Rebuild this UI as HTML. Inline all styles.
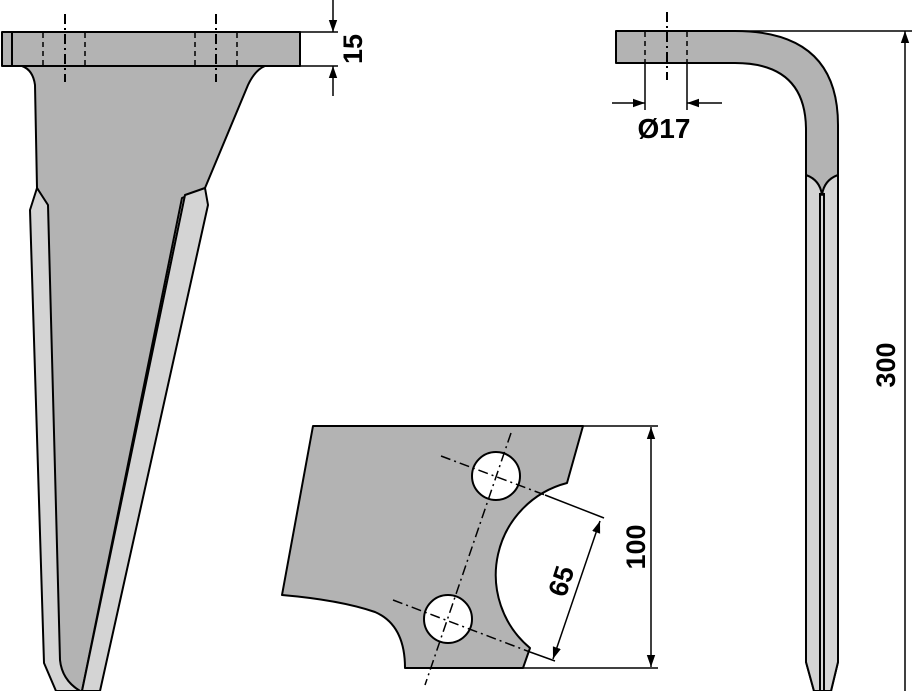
<!DOCTYPE html>
<html><head><meta charset="utf-8"><style>
html,body{margin:0;padding:0;background:#fff;}
svg{display:block;}
text{font-family:"Liberation Sans",sans-serif;font-weight:bold;fill:#000;}
</style></head><body>
<svg width="912" height="691" viewBox="0 0 912 691" xmlns="http://www.w3.org/2000/svg">
<defs>
<marker id="ar" viewBox="0 0 10 10" refX="10" refY="5" markerWidth="12" markerHeight="12" orient="auto-start-reverse" markerUnits="userSpaceOnUse"><path d="M0,1.5 L10,5 L0,8.5 z" fill="#000"/></marker>
</defs>
<g stroke="#000" stroke-width="2" stroke-linejoin="round">
<path d="M22,66 Q33,70 35,85 L37,188 L47,205 L57,660 Q62,680 80,691 L82,691 L182,198 L205,188 L248,85 Q255,70 265,66 Z" fill="#b3b3b3"/>
<path d="M37,188 L30,210 L44,663 L56,691 L80,691 Q62,680 60,660 L48,205 Z" fill="#d4d4d4"/>
<path d="M205,188 L185,195 L82,691 L100,691 L208,205 Z" fill="#d4d4d4"/>
<rect x="2" y="32" width="298" height="34" fill="#b3b3b3"/>
<line x1="12" y1="32" x2="12" y2="66"/>
</g>
<g stroke="#000" stroke-width="1.5" stroke-dasharray="5,4" fill="none">
<line x1="43" y1="33" x2="43" y2="65"/><line x1="85" y1="33" x2="85" y2="65"/>
<line x1="195" y1="33" x2="195" y2="65"/><line x1="237" y1="33" x2="237" y2="65"/>
</g>
<g stroke="#000" stroke-width="2" stroke-dasharray="10,4,2,4" fill="none">
<line x1="65" y1="14" x2="65" y2="82"/><line x1="216" y1="14" x2="216" y2="82"/>
</g>
<g stroke="#000" stroke-width="1.5" fill="none">
<line x1="300" y1="32" x2="338" y2="32"/><line x1="300" y1="66" x2="338" y2="66"/>
<line x1="333" y1="0" x2="333" y2="32" marker-end="url(#ar)"/>
<line x1="333" y1="96" x2="333" y2="66" marker-end="url(#ar)"/>
</g>
<text transform="translate(362,49) rotate(-90)" text-anchor="middle" font-size="27">15</text>

<g stroke="#000" stroke-width="2" stroke-linejoin="round">
<path d="M616,31 L735,31 Q838,31 838,125 L838,662 L831,691 L814,691 L806,662 L806,130 Q806,63 735,63 L616,63 Z" fill="#b3b3b3"/>
<path d="M806,175 Q820,180 822,195 Q824,180 838,175 L838,662 L831,691 L814,691 L806,662 Z" fill="#d4d4d4"/>
<line x1="820" y1="193" x2="820" y2="691"/><line x1="824" y1="193" x2="824" y2="691"/>
</g>
<g stroke="#000" stroke-width="1.5" stroke-dasharray="5,4" fill="none">
<line x1="645" y1="32" x2="645" y2="62"/><line x1="687" y1="32" x2="687" y2="62"/>
</g>
<line x1="667" y1="12" x2="667" y2="80" stroke="#000" stroke-width="2" stroke-dasharray="10,4,2,4"/>
<g stroke="#000" stroke-width="1.5" fill="none">
<line x1="645" y1="63" x2="645" y2="110"/><line x1="687" y1="63" x2="687" y2="110"/>
<line x1="612" y1="103" x2="645" y2="103" marker-end="url(#ar)"/>
<line x1="722" y1="103" x2="687" y2="103" marker-end="url(#ar)"/>
<line x1="735" y1="31" x2="912" y2="31"/>
<line x1="905" y1="691" x2="905" y2="31" marker-end="url(#ar)"/>
</g>
<text x="664" y="138" text-anchor="middle" font-size="28">Ø17</text>
<text transform="translate(895,365) rotate(-90)" text-anchor="middle" font-size="27">300</text>

<path d="M313,426 L583,426 L567,483 A95,95 0 0 0 530,648 L523,668 L405,668 Q405,625 375,612 Q340,600 282,595 Z" fill="#b3b3b3" stroke="#000" stroke-width="2" stroke-linejoin="round"/>
<circle cx="496" cy="476" r="24" fill="#fff" stroke="#000" stroke-width="2"/>
<circle cx="448" cy="619" r="24" fill="#fff" stroke="#000" stroke-width="2"/>
<g stroke="#000" stroke-width="1.5" stroke-dasharray="10,4,2,4" fill="none">
<line x1="511" y1="433" x2="425" y2="685"/>
<line x1="441" y1="456" x2="545" y2="495"/>
<line x1="393" y1="600" x2="530" y2="652"/>
</g>
<g stroke="#000" stroke-width="1.5" fill="none">
<line x1="545" y1="495" x2="604" y2="518"/>
<line x1="530" y1="652" x2="555" y2="661"/>
<line x1="553" y1="659" x2="600" y2="521" marker-start="url(#ar)" marker-end="url(#ar)"/>
<line x1="583" y1="426" x2="658" y2="426"/>
<line x1="523" y1="668" x2="658" y2="668"/>
<line x1="651" y1="427" x2="651" y2="667" marker-start="url(#ar)" marker-end="url(#ar)"/>
</g>
<text transform="translate(570,584) rotate(-72)" text-anchor="middle" font-size="27">65</text>
<text transform="translate(645,547) rotate(-90)" text-anchor="middle" font-size="27">100</text>
</svg>
</body></html>
